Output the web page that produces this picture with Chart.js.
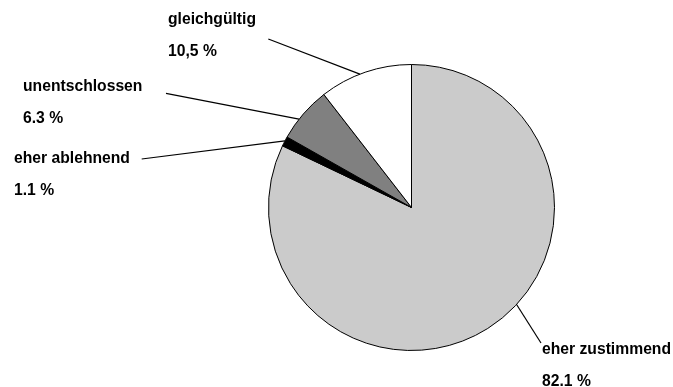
<!DOCTYPE html>
<html>
<head>
<meta charset="utf-8">
<script src="https://cdn.jsdelivr.net/npm/chart.js@4/dist/chart.umd.min.js"></script>
<style>
  html, body { margin: 0; padding: 0; background: #fff; }
  #wrap { width: 673px; height: 387px; }
</style>
</head>
<body>
<div id="wrap"><canvas id="pie"></canvas></div>
<script>
// Answer categories and their shares (percent)
const categories = ['eher zustimmend', 'eher ablehnend', 'unentschlossen', 'gleichgültig'];
const shares = [82.1, 1.1, 6.3, 10.5];
const shareLabels = ['82.1 %', '1.1 %', '6.3 %', '10,5 %'];
const sliceColors = ['#cbcbcb', '#000000', '#808080', '#ffffff'];

// Callout placement: text anchor (left, first baseline), leader end, and
// the point along each slice's arc where the leader touches the pie.
const callouts = [
  { x: 542, y: 353.5, lx: 541, ly: 343, f: 0.449 },
  { x: 14,  y: 163,   lx: 141.7, ly: 159, f: 0.55 },
  { x: 23,  y: 91,    lx: 166, ly: 93.3, f: 0.38 },
  { x: 168, y: 23.5,  lx: 268.3, ly: 39, f: 0.44 }
];

const calloutPlugin = {
  id: 'callouts',
  afterDatasetsDraw(chart) {
    const ctx = chart.ctx;
    const arcs = chart.getDatasetMeta(0).data;
    ctx.save();
    ctx.font = 'bold 15.7px "Liberation Sans", Arial, sans-serif';
    ctx.fillStyle = '#000';
    ctx.strokeStyle = '#000';
    ctx.lineWidth = 1.2;
    ctx.textBaseline = 'alphabetic';
    ctx.textAlign = 'left';
    arcs.forEach((arc, i) => {
      const c = callouts[i];
      const p = arc.getProps(['x', 'y', 'startAngle', 'endAngle', 'outerRadius'], true);
      const a = p.startAngle + c.f * (p.endAngle - p.startAngle);
      const ex = p.x + p.outerRadius * Math.cos(a);
      const ey = p.y + p.outerRadius * Math.sin(a);
      ctx.beginPath();
      ctx.moveTo(c.lx, c.ly);
      ctx.lineTo(ex, ey);
      ctx.stroke();
      ctx.fillText(categories[i], c.x, c.y);
      ctx.fillText(shareLabels[i], c.x, c.y + 32);
    });
    ctx.restore();
  }
};

new Chart(document.getElementById('pie'), {
  type: 'pie',
  data: {
    labels: categories,
    datasets: [{
      data: shares,
      backgroundColor: sliceColors,
      borderColor: '#000',
      borderWidth: 1
    }]
  },
  options: {
    responsive: true,
    maintainAspectRatio: false,
    animation: false,
    radius: 143,
    layout: { padding: { left: 200, right: 50, top: 44, bottom: 16 } },
    plugins: {
      legend: { display: false },
      tooltip: { enabled: false }
    }
  },
  plugins: [calloutPlugin]
});
</script>
</body>
</html>
